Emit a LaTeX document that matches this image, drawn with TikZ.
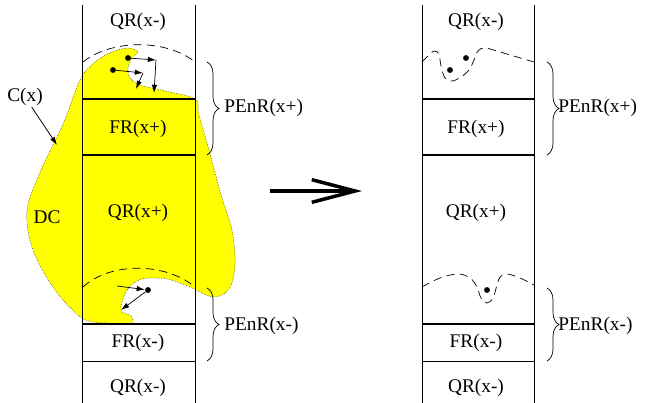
\documentclass[tikz,border=0pt]{standalone}
\usepackage{fontspec}
\setmainfont{Liberation Serif}
\usepackage{tikz}
\usetikzlibrary{arrows.meta,decorations.pathreplacing}

\definecolor{dcyellow}{RGB}{255,255,0}

\begin{document}
\begin{tikzpicture}[
  x=0.03cm, y=-0.03cm,
  lbl/.style={inner sep=1pt, font=\fontsize{16.5}{19}\selectfont},
  dot/.style={circle, fill=black, inner sep=0pt, minimum size=5pt},
  wall/.style={line width=0.8pt},
  band/.style={line width=1.1pt},
  vec/.style={-{Latex[length=7pt,width=4.5pt]}, semithick},
  curve/.style={dash pattern=on 7pt off 4.5pt, semithick},
  brc/.style={decorate, decoration={brace, amplitude=0.36cm}, semithick},
  bigarrow/.style={-{Straight Barb[length=1.3cm,width=0.68cm]}, line width=3pt}
]
\useasboundingbox (0,0) rectangle (645,403);

% DC region
\def\dcpts{(138,52) (128,48) (112,52) (95,62) (80,80) (64,122) (42,168) (27,210)
  (33,250) (55,290) (82,318) (105,323) (131,323) (131,316) (121,310)
  (127,290) (142,279) (167,279) (190,287) (213,297) (229,289) (235,265)
  (232,230) (221,195) (209,150) (199,115) (195,99) (165,91) (140,85)
  (130,78) (128,68) (132,58)}
\fill[dcyellow] plot[smooth cycle, tension=0.55] coordinates {\dcpts};
\draw[densely dotted, thin] plot[smooth cycle, tension=0.55] coordinates {\dcpts};

% Columns
\foreach \cx in {82,195,422,534}
  \draw[wall] (\cx,5) -- (\cx,403);
\foreach \lx/\rx in {82/195,422/534} {
  \draw[band] (\lx,99) -- (\rx,99);
  \draw[band] (\lx,155) -- (\rx,155);
  \draw[band] (\lx,324) -- (\rx,324);
  \draw[wall] (\lx,361) -- (\rx,361);
}

% Labels, left
\node[lbl] (qrtopL) at (138,22) {QR(x-)};
\node[lbl] (frpL) at (138,129) {FR(x+)};
\node[lbl] (qrpL) at (138,213) {QR(x+)};
\node[lbl] (frmL) at (138,343) {FR(x-)};
\node[lbl] (qrbotL) at (138,388) {QR(x-)};
\node[lbl] (dc) at (47,217) {DC};
\node[lbl] (cx) at (25,97) {C(x)};

% Labels, right
\node[lbl] (qrtopR) at (476,22) {QR(x-)};
\node[lbl] (frpR) at (476,129) {FR(x+)};
\node[lbl] (qrpR) at (476,213) {QR(x+)};
\node[lbl] (frmR) at (476,343) {FR(x-)};
\node[lbl] (qrbotR) at (476,388) {QR(x-)};

% Fronts
\draw[curve] (83,62) .. controls (110,40) and (165,38) .. (195,62);
\draw[curve] (83,287) .. controls (110,262) and (165,262) .. (195,287);
\draw[curve] plot[smooth, tension=0.6] coordinates {
  (422,62) (434,51) (439,55) (441,66) (445,78) (452,81) (461,77)
  (469,70) (474,60) (478,51) (485,48) (500,52) (534,62)};
\draw[curve] plot[smooth, tension=0.6] coordinates {
  (422,287) (440,278) (458,274) (470,278) (477,287) (481,298) (487,303)
  (493,298) (497,285) (500,277) (507,274) (520,278) (534,285)};

% Moves, left
\node[dot] (p1) at (128,58) {};
\node[dot] (p2) at (113,70) {};
\node[dot] (p3) at (148,290) {};
\coordinate (m1) at (156,60);
\coordinate (m1b) at (154,93);
\coordinate (m2) at (143,73);
\coordinate (m2b) at (136,89);
\coordinate (m3a) at (117,286);
\coordinate (m3b) at (121,310);
\coordinate (cxtip) at (57,145);
\draw[vec] (p1) -- (m1);
\draw[vec] (m1) -- (m1b);
\draw[vec] (p2) -- (m2);
\draw[vec] (m2) -- (m2b);
\draw[vec] (m3a) -- (p3);
\draw[vec] (p3) -- (m3b);
\draw[vec] (cx) -- (cxtip);

% Points, right
\node[dot] (q1) at (450,70) {};
\node[dot] (q2) at (466,58) {};
\node[dot] (q3) at (487,290) {};

% Braces
\coordinate (b1s) at (207,62);  \coordinate (b1e) at (207,155);
\coordinate (b2s) at (207,288); \coordinate (b2e) at (207,361);
\coordinate (b3s) at (547,62);  \coordinate (b3e) at (547,155);
\coordinate (b4s) at (547,288); \coordinate (b4e) at (547,361);
\draw[brc] (b1s) -- (b1e);
\draw[brc] (b2s) -- (b2e);
\draw[brc] (b3s) -- (b3e);
\draw[brc] (b4s) -- (b4e);
\node[lbl, anchor=west] (penrpL) at (223,108) {PEnR(x+)};
\node[lbl, anchor=west] (penrmL) at (223,326) {PEnR(x-)};
\node[lbl, anchor=west] (penrpR) at (557,108) {PEnR(x+)};
\node[lbl, anchor=west] (penrmR) at (557,326) {PEnR(x-)};

% Transition
\coordinate (tS) at (270,191);
\coordinate (tE) at (362,191);
\draw[bigarrow] (tS) -- (tE);

\end{tikzpicture}
\end{document}
